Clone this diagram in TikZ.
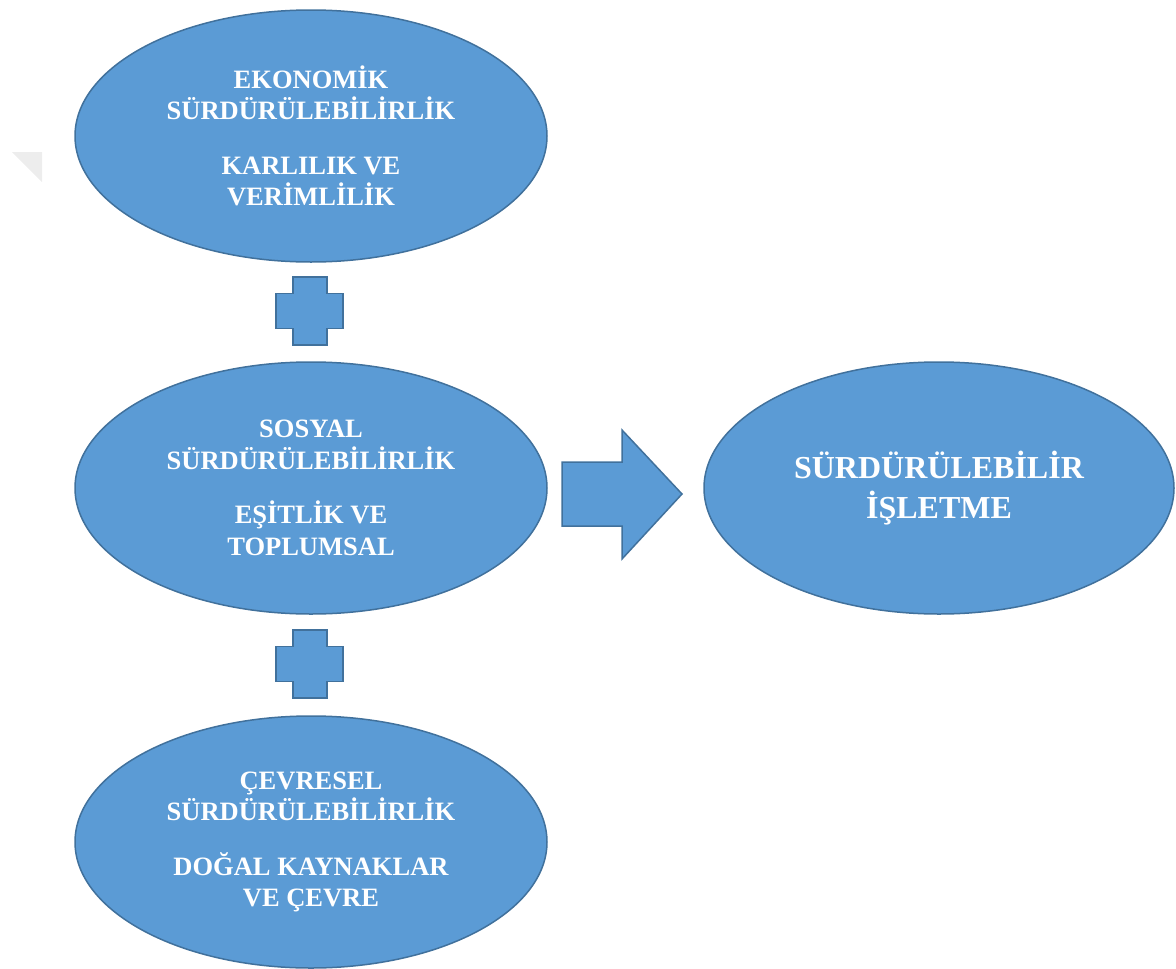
\documentclass[tikz,border=0pt]{standalone}
\usepackage{fontspec}
\setmainfont{Liberation Serif}
\usetikzlibrary{shapes.geometric, positioning}
\definecolor{pillarblue}{HTML}{5B9BD5}
\definecolor{pillaredge}{HTML}{41719C}
\tikzset{
    pillar/.style={ellipse, draw=pillaredge, fill=pillarblue, line width=1.5pt,
        minimum width=472pt, minimum height=252pt, inner sep=0pt,
        text=white, align=center, font=\bfseries\fontsize{26.5}{31.5}\selectfont},
    plusbox/.style={draw=pillaredge, fill=pillarblue, line width=1.5pt},
    arrowbox/.style={draw=pillaredge, fill=pillarblue, line width=1.5pt, line join=miter}
}

\begin{document}
\begin{tikzpicture}[x=1pt, y=-1pt]
    \useasboundingbox (0, 0) rectangle (1176, 969);
    % faint mark on the left
    \fill[black!7] (12, 152) -- (42, 152) -- (42, 182) -- cycle;
    % the three pillars
    \node[pillar] (eko) at (311, 136) {EKONOM\.IK\\S\"URD\"UR\"ULEB\.IL\.IRL\.IK\\[23pt]KARLILIK VE\\VER\.IML\.IL\.IK};
    \node[pillar] (sos) at (311, 488) {SOSYAL\\S\"URD\"UR\"ULEB\.IL\.IRL\.IK\\[23pt]E\c{S}\.ITL\.IK VE\\TOPLUMSAL};
    \node[pillar] (cev) at (311, 842) {\c{C}EVRESEL\\S\"URD\"UR\"ULEB\.IL\.IRL\.IK\\[23pt]DO\u{G}AL KAYNAKLAR\\VE \c{C}EVRE};
    % result
    \node[pillar, minimum width=470pt, font=\bfseries\fontsize{32}{40}\selectfont] (isl) at (939, 488) {S\"URD\"UR\"ULEB\.IL\.IR\\\.I\c{S}LETME};
    % plus signs
    \draw[plusbox] (293, 277) -- ++(34, 0) -- ++(0, 16.5) -- ++(16, 0) -- ++(0, 35) -- ++(-16, 0)
        -- ++(0, 16.5) -- ++(-34, 0) -- ++(0, -16.5) -- ++(-17, 0) -- ++(0, -35) -- ++(17, 0) -- cycle;
    \draw[plusbox] (293, 630) -- ++(34, 0) -- ++(0, 16.5) -- ++(16, 0) -- ++(0, 35) -- ++(-16, 0)
        -- ++(0, 16.5) -- ++(-34, 0) -- ++(0, -16.5) -- ++(-17, 0) -- ++(0, -35) -- ++(17, 0) -- cycle;
    % arrow
    \draw[arrowbox] (562, 462) -- (622, 462) -- (622, 430) -- (682, 494) -- (622, 559)
        -- (622, 526) -- (562, 526) -- cycle;
\end{tikzpicture}
\end{document}
